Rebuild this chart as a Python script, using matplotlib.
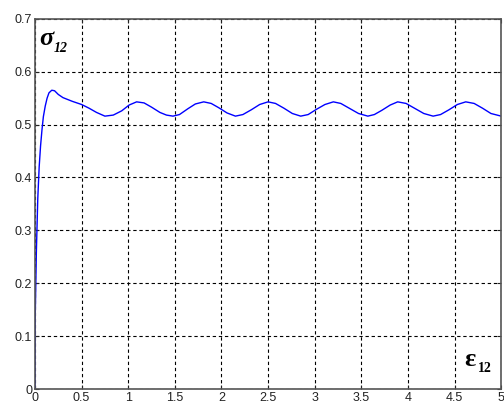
import matplotlib
matplotlib.use("Agg")
import matplotlib.pyplot as plt

strain = [0.0, 0.003, 0.015, 0.03, 0.045, 0.06, 0.075, 0.09, 0.11, 0.13, 0.15, 0.18, 0.21,
          0.25, 0.30, 0.40, 0.50, 0.58, 0.66, 0.75, 0.84, 0.93, 1.01, 1.09, 1.17, 1.25,
          1.34, 1.41, 1.48, 1.55, 1.64, 1.72, 1.81, 1.89, 1.97, 2.06, 2.15, 2.23, 2.32,
          2.41, 2.50, 2.58, 2.67, 2.76, 2.85, 2.93, 3.02, 3.11, 3.20, 3.28, 3.37, 3.47,
          3.57, 3.64, 3.72, 3.81, 3.89, 3.98, 4.07, 4.17, 4.27, 4.35, 4.44, 4.53, 4.62,
          4.71, 4.80, 4.89, 5.0]
stress = [0.0, 0.14, 0.26, 0.36, 0.42, 0.46, 0.49, 0.515, 0.535, 0.55, 0.56, 0.565, 0.564,
          0.557, 0.551, 0.544, 0.538, 0.531, 0.523, 0.516, 0.518, 0.526, 0.537, 0.543, 0.541,
          0.533, 0.523, 0.518, 0.516, 0.519, 0.530, 0.539, 0.543, 0.540, 0.532, 0.522,
          0.516, 0.519, 0.528, 0.538, 0.543, 0.540, 0.531, 0.521, 0.516, 0.519, 0.529,
          0.538, 0.543, 0.540, 0.531, 0.521, 0.516, 0.519, 0.527, 0.537, 0.543, 0.540,
          0.531, 0.521, 0.516, 0.519, 0.528, 0.538, 0.543, 0.540, 0.531, 0.521, 0.516]

xticks = [0, 0.5, 1, 1.5, 2, 2.5, 3, 3.5, 4, 4.5, 5]
xticklabels = ["0", "0.5", "1", "1.5", "2", "2.5", "3", "3.5", "4", "4.5", "5"]
yticks = [0, 0.1, 0.2, 0.3, 0.4, 0.5, 0.6, 0.7]
yticklabels = ["0", "0.1", "0.2", "0.3", "0.4", "0.5", "0.6", "0.7"]

fig = plt.figure(figsize=(5.04, 4.05), dpi=100)
ax = fig.add_axes([0.0694, 0.0395, 0.925, 0.914])
ax.plot(strain, stress, color=(0, 0, 1), linewidth=1.0)
ax.set_xlim(0, 5)
ax.set_ylim(0, 0.7)
ax.set_xticks(xticks)
ax.set_xticklabels(xticklabels, fontfamily="Liberation Sans", fontsize=9)
ax.set_yticks(yticks)
ax.set_yticklabels(yticklabels, fontfamily="Liberation Sans", fontsize=9)
ax.tick_params(direction="in", top=True, right=True, length=3, pad=2, colors="#222222")
ax.grid(True, color="black", linestyle=(0, (3, 2.5)), linewidth=0.8)
for s in ax.spines.values():
    s.set_color("#555555")
    s.set_linewidth(1.2)

ax.text(0.009, 0.946, "σ", transform=ax.transAxes, fontsize=19,
        fontfamily="Liberation Serif", fontstyle="italic", fontweight="bold",
        va="center", ha="left")
ax.text(0.040, 0.920, "12", transform=ax.transAxes, fontsize=10,
        fontfamily="Liberation Serif", fontstyle="italic", fontweight="bold",
        va="center", ha="left")
ax.text(0.921, 0.080, "ε", transform=ax.transAxes, fontsize=19,
        fontfamily="Liberation Serif", fontweight="bold", va="center", ha="left")
ax.text(0.951, 0.056, "12", transform=ax.transAxes, fontsize=10,
        fontfamily="Liberation Serif", fontweight="bold", va="center", ha="left")

fig.savefig("out.png", dpi=100)
